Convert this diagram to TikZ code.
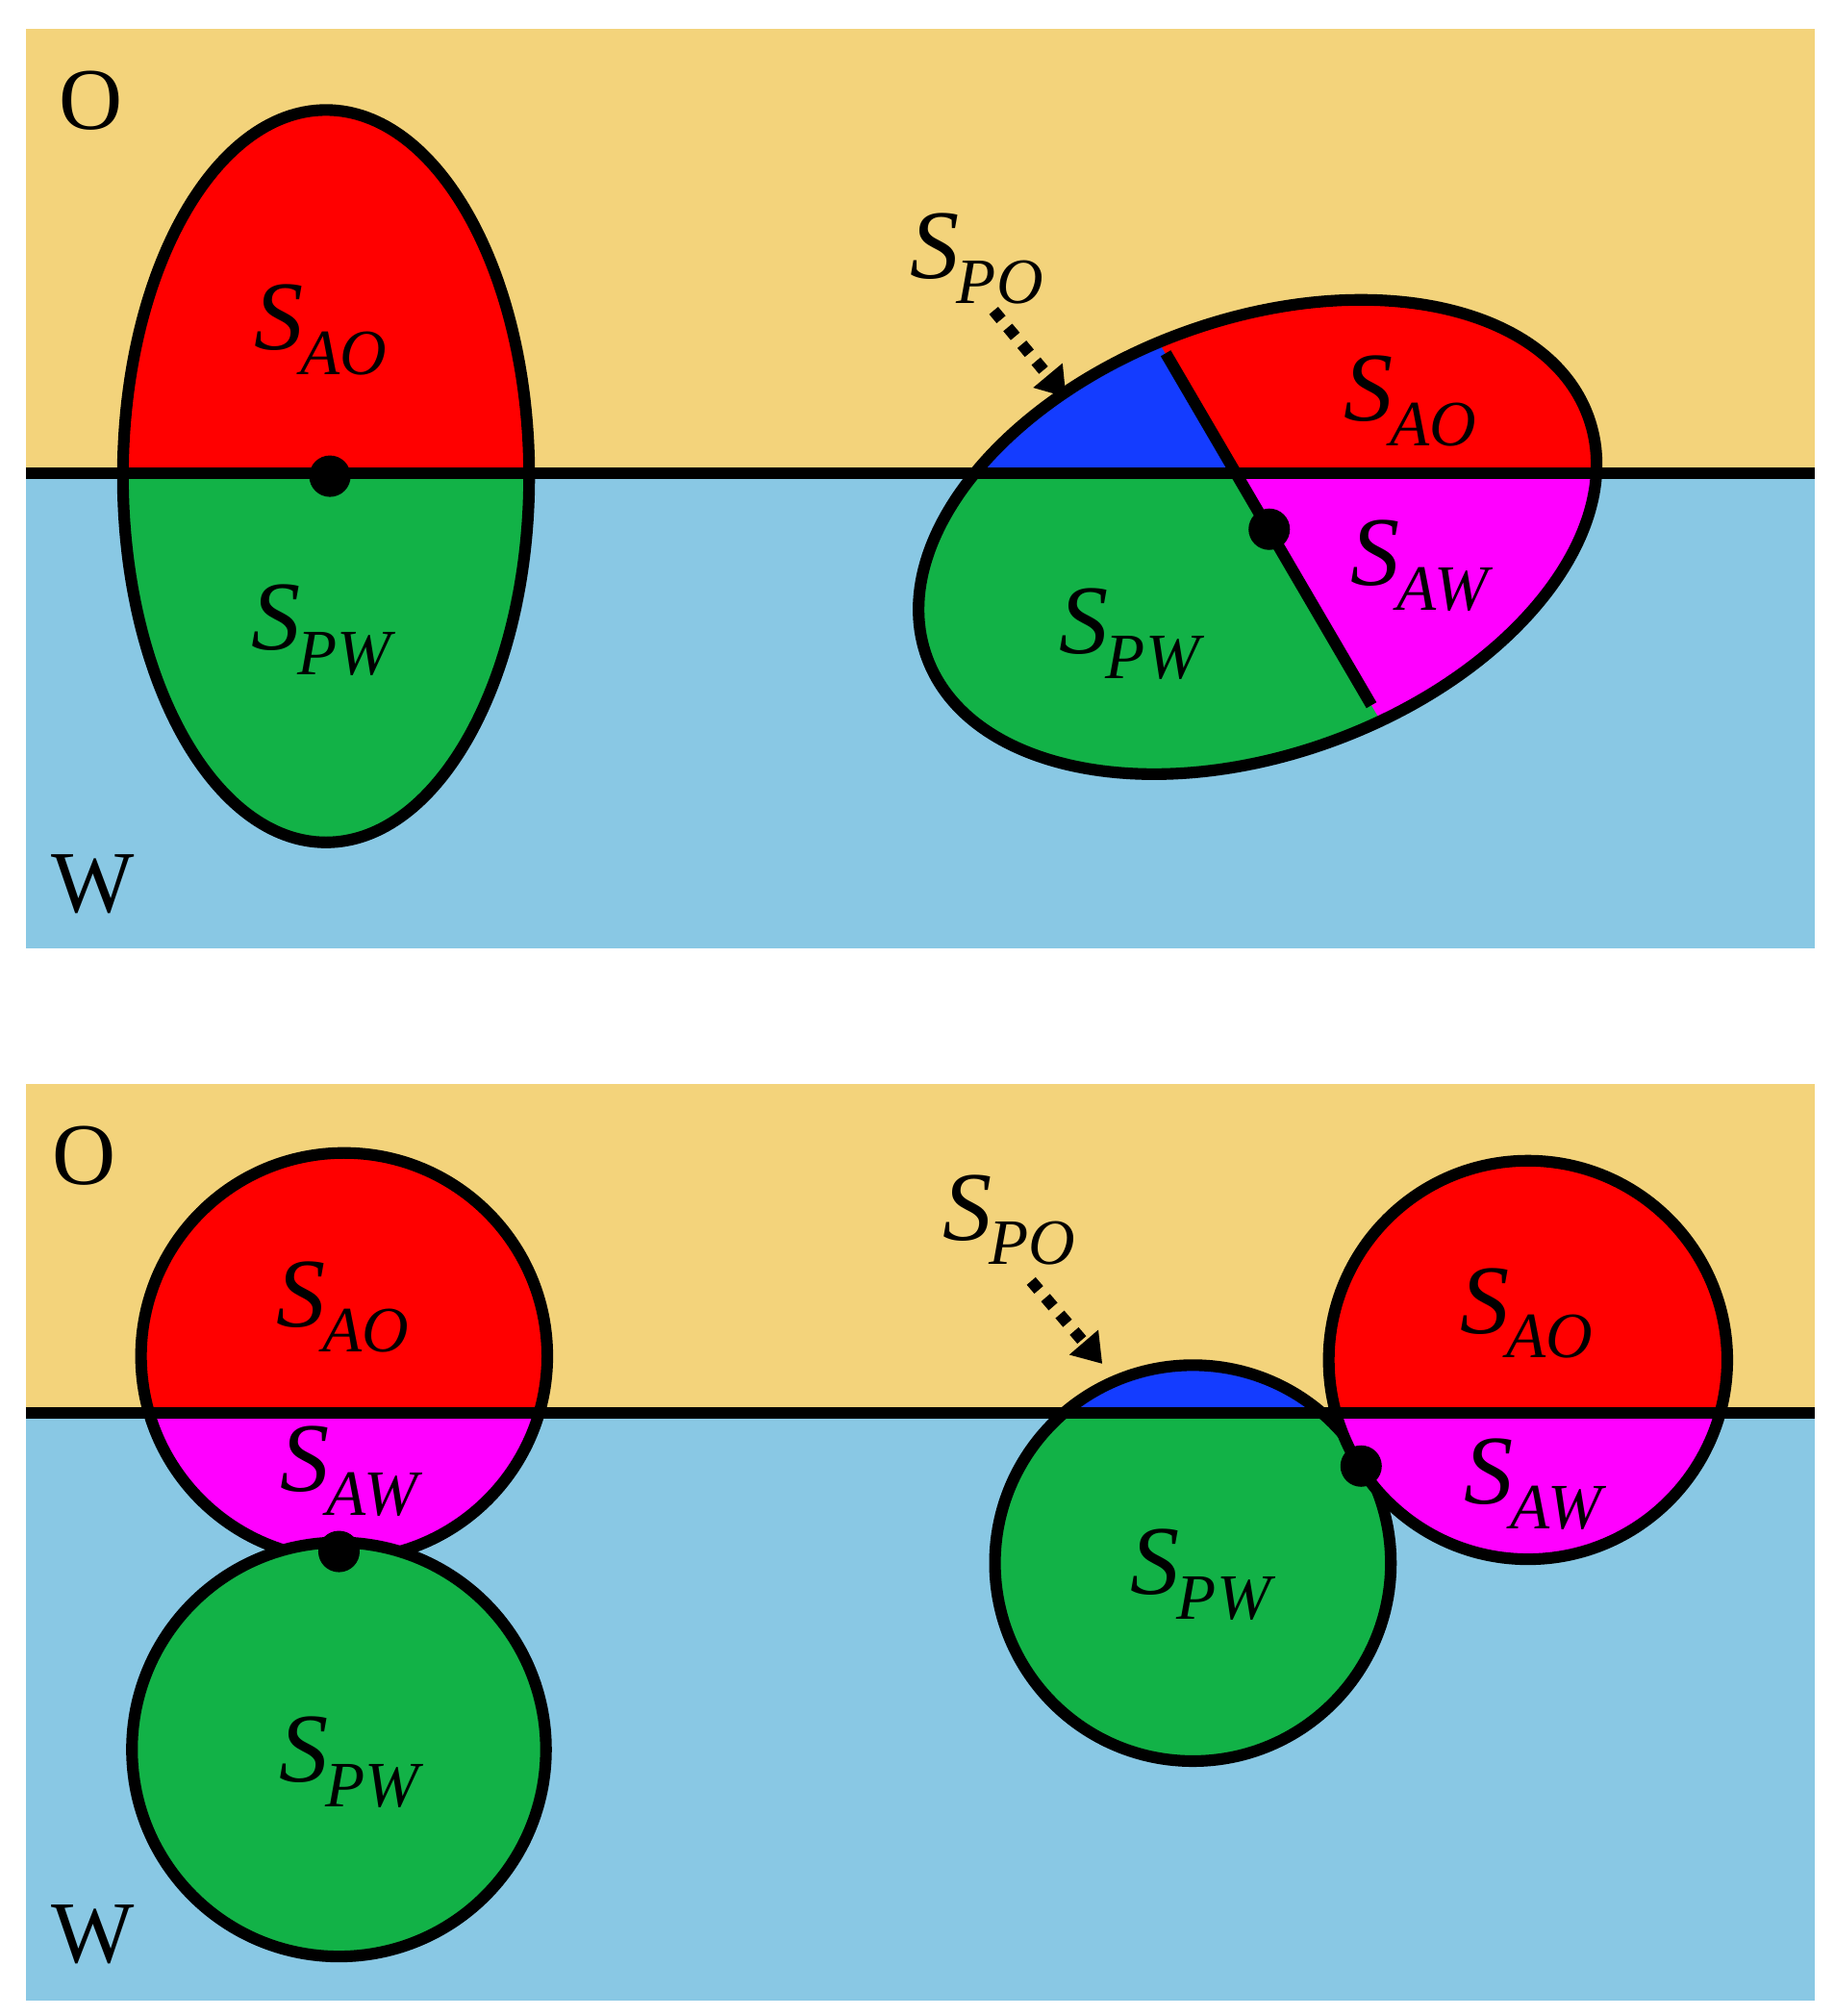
\documentclass[tikz,border=0pt]{standalone}
\usepackage{fontspec}
\setmainfont{Liberation Serif}
\usetikzlibrary{arrows.meta}
\definecolor{oil}{RGB}{243,211,123}
\definecolor{wat}{RGB}{137,200,228}
\definecolor{gr}{RGB}{18,178,71}
\definecolor{bl}{RGB}{20,60,255}
\definecolor{mag}{RGB}{255,0,255}
\definecolor{rd}{RGB}{255,0,0}
\newcommand{\lbl}[2]{\textit{S\kern-0.03em\raisebox{-0.25em}{\fontsize{50}{50}\selectfont #1#2}}}
\tikzset{
 lab/.style={font=\fontsize{76}{76}\selectfont, inner sep=0pt},
 big/.style={font=\fontsize{68}{68}\selectfont, inner sep=0pt},
 ol/.style={line width=9pt},
 dt/.style={circle, fill=black, inner sep=0pt, minimum size=32pt},
 arr/.style={line width=9pt, dash pattern=on 9pt off 8pt, -{Triangle[length=22pt,width=28pt]}}
}
\begin{document}
\begin{tikzpicture}[x=1pt,y=-1pt]
\useasboundingbox (0,0) rectangle (1417,1558);
% ---------- top panel
\fill[oil] (20,22) rectangle (1403,366);
\fill[wat] (20,366) rectangle (1403,733);
\begin{scope}
 \clip (252,368) ellipse [x radius=157, y radius=283];
 \fill[rd] (80,60) rectangle (430,368);
 \fill[gr] (80,368) rectangle (430,660);
\end{scope}
\draw[ol] (252,368) ellipse [x radius=157, y radius=283];
\begin{scope}
 \clip[rotate around={20:(972,415)}] (972,415) ellipse [x radius=272, y radius=168];
 \fill[gr] (690,200) rectangle (1260,620);
 \fill[bl] (690,200) -- (858,200) -- (955,366) -- (690,366) -- cycle;
 \fill[rd] (858,200) -- (1260,200) -- (1260,366) -- (955,366) -- cycle;
 \fill[mag] (955,366) -- (1260,366) -- (1260,620) -- (1104,620) -- cycle;
\end{scope}
\draw[ol] (20,366) -- (1403,366);
\coordinate (ua) at (901,273);
\coordinate (ub) at (1060,545);
\draw[ol] (ua) -- (ub);
\draw[ol, rotate around={20:(972,415)}] (972,415) ellipse [x radius=272, y radius=168];
\node[dt] (d1) at (255,368) {};
\node[dt] (d2) at (981,409) {};
\node[lab] (t1) at (248,255) {\lbl{A}{O}};
\node[lab] (t2) at (248,487) {\lbl{P}{W}};
\node[big] (o1) at (70,78) {O};
\node[big] (w1) at (72,683) {W};
\node[lab] (t3) at (755,200) {\lbl{P}{O}};
\node[lab] (t4) at (1090,310) {\lbl{A}{O}};
\node[lab] (t5) at (1097,437) {\lbl{A}{W}};
\node[lab] (t6) at (873,490) {\lbl{P}{W}};
\coordinate (a1) at (768,240);
\coordinate (a2) at (824,307);
\draw[arr] (a1) -- (a2);

% ---------- bottom panel
\fill[oil] (20,838) rectangle (1403,1092);
\fill[wat] (20,1092) rectangle (1403,1546);
\begin{scope}
 \clip (266,1048) circle (157);
 \fill[rd] (100,880) rectangle (430,1092);
 \fill[mag] (100,1092) rectangle (430,1210);
\end{scope}
\draw[ol] (266,1048) circle (157);
\fill[gr] (262,1352) circle (160);
\draw[ol] (262,1352) circle (160);
\begin{scope}
 \clip (922,1208) circle (153);
 \fill[gr] (760,1040) rectangle (1090,1370);
 \fill[bl] (760,1040) rectangle (1090,1092);
\end{scope}
\draw[ol] (922,1208) circle (153);
\begin{scope}
 \clip (1181,1051) circle (154);
 \fill[rd] (1020,890) rectangle (1340,1092);
 \fill[mag] (1020,1092) rectangle (1340,1215);
\end{scope}
\draw[ol] (20,1092) -- (1403,1092);
\draw[ol] (1181,1051) circle (154);
\node[dt] (d3) at (262,1199) {};
\node[dt] (d4) at (1052,1133) {};
\node[big] (o2) at (65,893) {O};
\node[big] (w2) at (72,1495) {W};
\node[lab] (t7) at (265,1010) {\lbl{A}{O}};
\node[lab] (t8) at (270,1137) {\lbl{A}{W}};
\node[lab] (t9) at (270,1362) {\lbl{P}{W}};
\node[lab] (t10) at (780,943) {\lbl{P}{O}};
\node[lab] (t11) at (1180,1015) {\lbl{A}{O}};
\node[lab] (t12) at (1185,1147) {\lbl{A}{W}};
\node[lab] (t13) at (928,1217) {\lbl{P}{W}};
\coordinate (b1) at (797,990);
\coordinate (b2) at (852,1054);
\draw[arr] (b1) -- (b2);
\end{tikzpicture}
\end{document}
